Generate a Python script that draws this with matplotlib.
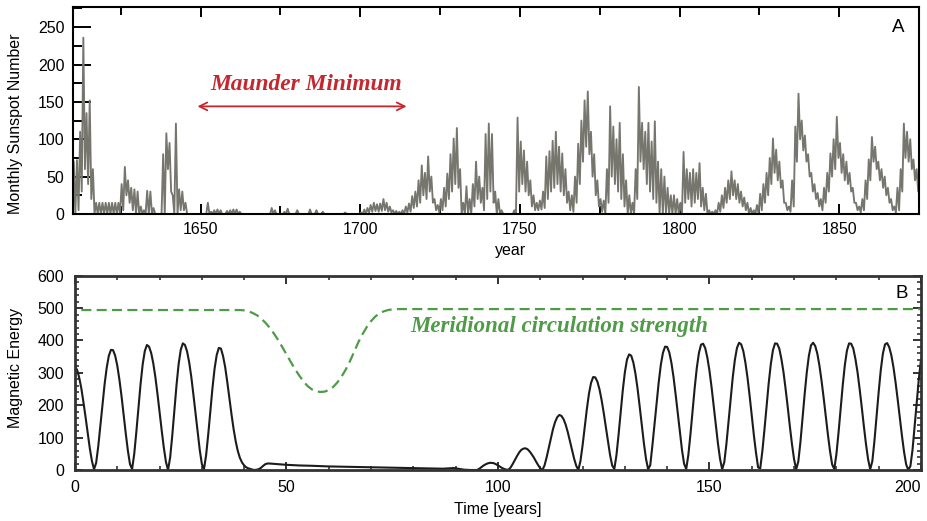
import numpy as np
import matplotlib
matplotlib.use('Agg')
import matplotlib.pyplot as plt
from matplotlib.ticker import MultipleLocator

plt.rcParams['font.family'] = ['Liberation Sans', 'DejaVu Sans']

# --- panel A: monthly sunspot number, per-year high / low
first_year = 1610
ssn_hi = [70, 72, 110, 236, 135, 152, 60, 15, 15, 15,
          15, 15, 15, 15, 15, 40, 63, 45, 35, 33,
          30, 10, 5, 31, 30, 8, 0, 0, 80, 108,
          95, 25, 121, 33, 30, 15, 0, 0, 0, 0,
          0, 0, 15, 3, 5, 6, 5, 0, 4, 5,
          6, 6, 3, 0, 0, 0, 0, 0, 0, 0,
          0, 0, 8, 5, 0, 0, 3, 7, 0, 0,
          5, 0, 0, 0, 6, 0, 5, 0, 3, 0,
          0, 0, 0, 0, 0, 2, 0, 0, 0, 0,
          2, 6, 8, 12, 15, 13, 14, 20, 15, 10,
          5, 4, 3, 5, 10, 14, 24, 30, 45, 65,
          55, 77, 50, 20, 12, 20, 35, 54, 80, 101,
          115, 60, 15, 37, 20, 40, 70, 50, 35, 107,
          121, 107, 30, 20, 5, 0, 0, 0, 5, 129,
          97, 85, 70, 45, 25, 15, 18, 30, 77, 84,
          98, 110, 90, 81, 60, 30, 25, 50, 94, 125,
          152, 164, 110, 80, 45, 20, 18, 60, 144, 117,
          100, 122, 80, 45, 25, 15, 60, 170, 122, 110,
          122, 97, 124, 70, 60, 50, 35, 25, 25, 20,
          15, 83, 60, 55, 60, 55, 68, 35, 27, 5,
          3, 5, 15, 25, 35, 45, 57, 45, 40, 30,
          22, 15, 8, 5, 12, 27, 40, 55, 75, 101,
          86, 70, 45, 15, 10, 45, 117, 161, 125, 105,
          80, 55, 40, 28, 20, 35, 55, 81, 100, 130,
          95, 80, 70, 55, 35, 15, 10, 20, 45, 73,
          103, 90, 70, 60, 50, 35, 20, 10, 35, 60,
          121, 110, 100, 73, 60, 55]
ssn_lo = [0, 5, 30, 60, 40, 20, 0, 0, 0, 0,
          0, 0, 0, 0, 0, 5, 25, 15, 5, 0,
          0, 0, 0, 0, 0, 0, 0, 0, 0, 60,
          30, 0, 0, 5, 5, 0, 0, 0, 0, 0,
          0, 0, 0, 0, 0, 0, 0, 0, 0, 0,
          0, 0, 0, 0, 0, 0, 0, 0, 0, 0,
          0, 0, 0, 0, 0, 0, 0, 0, 0, 0,
          0, 0, 0, 0, 0, 0, 0, 0, 0, 0,
          0, 0, 0, 0, 0, 0, 0, 0, 0, 0,
          0, 0, 2, 3, 4, 3, 4, 5, 3, 2,
          0, 0, 0, 0, 2, 3, 8, 10, 15, 25,
          20, 30, 15, 5, 2, 5, 10, 20, 30, 40,
          35, 0, 0, 0, 0, 10, 20, 15, 5, 20,
          30, 15, 0, 0, 0, 0, 0, 0, 0, 30,
          40, 30, 25, 10, 5, 5, 6, 8, 20, 30,
          35, 40, 30, 25, 15, 5, 3, 15, 40, 70,
          90, 80, 50, 25, 10, 3, 0, 15, 50, 40,
          30, 20, 10, 0, 0, 0, 20, 70, 60, 40,
          30, 20, 15, 0, 0, 0, 0, 0, 0, 0,
          0, 15, 20, 10, 15, 20, 10, 5, 0, 0,
          0, 0, 3, 8, 15, 20, 25, 20, 15, 10,
          5, 0, 0, 0, 0, 5, 15, 25, 40, 55,
          45, 35, 15, 5, 3, 10, 70, 100, 85, 70,
          50, 30, 20, 10, 5, 15, 30, 50, 60, 75,
          55, 45, 40, 30, 15, 5, 2, 5, 20, 45,
          70, 60, 45, 35, 25, 15, 5, 2, 5, 30,
          75, 70, 60, 45, 30, 30]

# --- panel B: magnetic energy, sampled every half year (two stretches)
# plus a coarse stretch across the quiet interval
energy_early = [320, 309, 285, 252, 209, 163, 114, 67, 28, 2,
                22, 73, 136, 202, 265, 316, 353, 371, 370, 353,
                322, 279, 228, 170, 113, 60, 18,
                3, 49, 117, 192, 265, 326, 367, 386, 381, 362,
                330, 287, 235, 178, 122, 69, 25,
                0, 39, 107, 186, 262, 327, 371, 391, 386, 366,
                332, 287, 232, 174, 115, 61, 18,
                3, 46, 110, 182, 253, 313, 355, 377, 375, 352,
                318, 272, 222, 172, 126, 88, 58, 37, 23, 14,
                8, 5, 3, 1, 0, 1, 3, 7, 13, 18, 20]
quiet_time = [46, 48, 50, 53, 56, 60, 64, 68, 72, 76, 80, 84, 87,
              88.5, 89.5, 90.5, 92, 93.5]
quiet_energy = [20, 18, 16, 14, 13, 11, 10, 9, 8, 7, 6, 5, 4,
                5, 6, 4, 1, 0]
late_start = 94.5
energy_late = [0, 0, 3, 8, 13, 17, 20, 22, 22, 21, 18, 14, 10, 6, 3, 1,
               1, 8, 19, 31, 43, 54, 62, 66, 67, 64, 57, 48, 38, 26, 15, 5,
               0, 14, 39, 68, 98, 126, 148, 163, 170, 167, 157, 140, 117,
               90, 62, 35, 13,
               0, 28, 76, 132, 187, 235, 269, 287, 286, 273, 249, 216, 176,
               132, 87, 46, 14,
               3, 45, 108, 178, 246, 302, 341, 357, 353, 332, 297, 251, 196,
               138, 82, 34, 2,
               15, 75, 140, 208, 271, 325, 362, 381, 380, 363, 331, 287, 233,
               175, 116, 62, 19,
               3, 46, 110, 182, 253, 315, 361, 387, 390, 376, 347, 306, 255,
               198, 139, 82, 34, 2,
               24, 80, 149, 219, 286, 340, 377, 393, 388, 367, 331, 284, 228,
               167, 107, 53, 8,
               5, 58, 125, 197, 268, 327, 370, 391, 390, 375, 343, 302, 250,
               194, 135, 80, 33, 2,
               26, 86, 159, 234, 301, 353, 385, 393, 383, 359, 322, 275, 222,
               166, 109, 58, 17,
               3, 48, 114, 189, 261, 324, 369, 391, 390, 375, 343, 302, 250,
               194, 135, 80, 33, 2,
               27, 90, 165, 241, 309, 360, 388, 392, 379, 354, 317, 270, 217,
               161, 106, 56, 17,
               0, 12, 62, 135, 210, 282, 340]

# meridional circulation strength (scaled to the energy axis)
circ_time = [1.5, 39, 40, 41, 42, 43, 44, 45, 46, 47, 48, 49, 50, 51, 52, 53,
             54, 55, 56, 57, 58, 59, 60, 61, 62, 63, 64, 65, 66, 67, 68, 69,
             70, 71, 72, 73, 74, 75, 76, 78, 200]
circ_level = [494, 494, 493, 490, 485, 478, 468, 455, 440, 422, 402, 380,
              357, 334, 312, 292, 274, 259, 249, 243, 241, 242, 247, 256,
              270, 288, 310, 336, 365, 395, 420, 442, 460, 474, 484, 490,
              494, 496, 497, 497, 497]

years = first_year + np.arange(len(ssn_hi))
ssn_x = np.column_stack([years + 0.25, years + 0.75]).ravel()
ssn_y = np.column_stack([ssn_hi, ssn_lo]).ravel()

t_early = 0.5 * np.arange(len(energy_early))
t_late = late_start + 0.5 * np.arange(len(energy_late))
t_b = np.concatenate([t_early, quiet_time, t_late])
e_b = np.concatenate([energy_early, quiet_energy, energy_late])

red = '#c4282e'
green = '#4f9b48'
fs = 11.5

fig = plt.figure(figsize=(9.27, 5.21), dpi=100)

# ---------------- panel A
ax1 = fig.add_axes([0.0787, 0.5893, 0.9127, 0.3973])
ax1.plot(ssn_x, ssn_y, color='#76766e', lw=1.35)
ax1.set_xlim(1610, 1875)
ax1.set_ylim(0, 277)
ax1.xaxis.set_major_locator(MultipleLocator(50))
ax1.xaxis.set_minor_locator(MultipleLocator(25))
ax1.yaxis.set_major_locator(MultipleLocator(50))
ax1.yaxis.set_minor_locator(MultipleLocator(25))
ax1.tick_params(axis='x', which='both', direction='in', top=True,
                labelsize=fs, pad=6)
ax1.tick_params(axis='x', which='major', length=7, width=1.4)
ax1.tick_params(axis='x', which='minor', length=5.5, width=1.4)
ax1.tick_params(axis='y', which='both', direction='in', right=False,
                labelsize=fs, pad=6)
ax1.tick_params(axis='y', which='major', length=13, width=1.4)
ax1.tick_params(axis='y', which='minor', length=6.5, width=1.4)
for s in ax1.spines.values():
    s.set_linewidth(1.5)
ax1.set_xlabel('year', fontsize=fs)
ax1.set_ylabel('Monthly Sunspot Number', fontsize=fs)
ax1.xaxis.set_label_coords(0.517, -0.14)
ax1.yaxis.set_label_coords(-0.059, 0.435)
ax1.text(0.975, 0.9, 'A', transform=ax1.transAxes, fontsize=13.5,
         ha='center', va='center')
ax1.annotate('', xy=(1649, 144), xytext=(1714.5, 144),
             arrowprops=dict(arrowstyle='<->', color=red, lw=1.3,
                             mutation_scale=14, shrinkA=0, shrinkB=0))
ax1.text(1683, 166, 'Maunder Minimum', color=red, fontsize=16.8,
         family='Liberation Serif', fontweight='bold', fontstyle='italic',
         ha='center', va='baseline')

# ---------------- panel B
ax2 = fig.add_axes([0.0809, 0.0979, 0.9126, 0.3729])
ax2.plot(circ_time, circ_level, color=green, lw=1.6, ls=(0, (4.5, 2.4)))
ax2.plot(t_b, e_b, color='#1c1c1c', lw=1.5)
ax2.set_xlim(0, 200)
ax2.set_ylim(0, 600)
ax2.set_xticks([0, 50, 100, 150, 200])
ax2.xaxis.set_minor_locator(MultipleLocator(10))
ax2.set_yticks([0, 100, 200, 300, 400, 500, 600])
ax2.yaxis.set_minor_locator(MultipleLocator(20))
ax2.tick_params(which='both', direction='in', top=True, right=True,
                labelsize=fs, colors='#333333', labelcolor='black')
ax2.tick_params(which='major', length=5.5, width=1.4)
ax2.tick_params(which='minor', length=3, width=1.2)
ax2.tick_params(axis='x', pad=7)
ax2.tick_params(axis='y', pad=8)
for s in ax2.spines.values():
    s.set_linewidth(2.0)
    s.set_color('#333333')
ax2.set_xlabel('Time [years]', fontsize=fs, labelpad=5)
ax2.set_ylabel('Magnetic Energy', fontsize=fs)
ax2.yaxis.set_label_coords(-0.061, 0.527)
ax2.text(0.9775, 0.906, 'B', transform=ax2.transAxes, fontsize=13.5,
         ha='center', va='center')
ax2.text(114.5, 427, 'Meridional circulation strength', color=green,
         fontsize=16.5, family='Liberation Serif', fontweight='bold',
         fontstyle='italic', ha='center', va='baseline')
ax2.get_xticklabels()[-1].set_horizontalalignment('right')

fig.savefig('out.png', dpi=100)
